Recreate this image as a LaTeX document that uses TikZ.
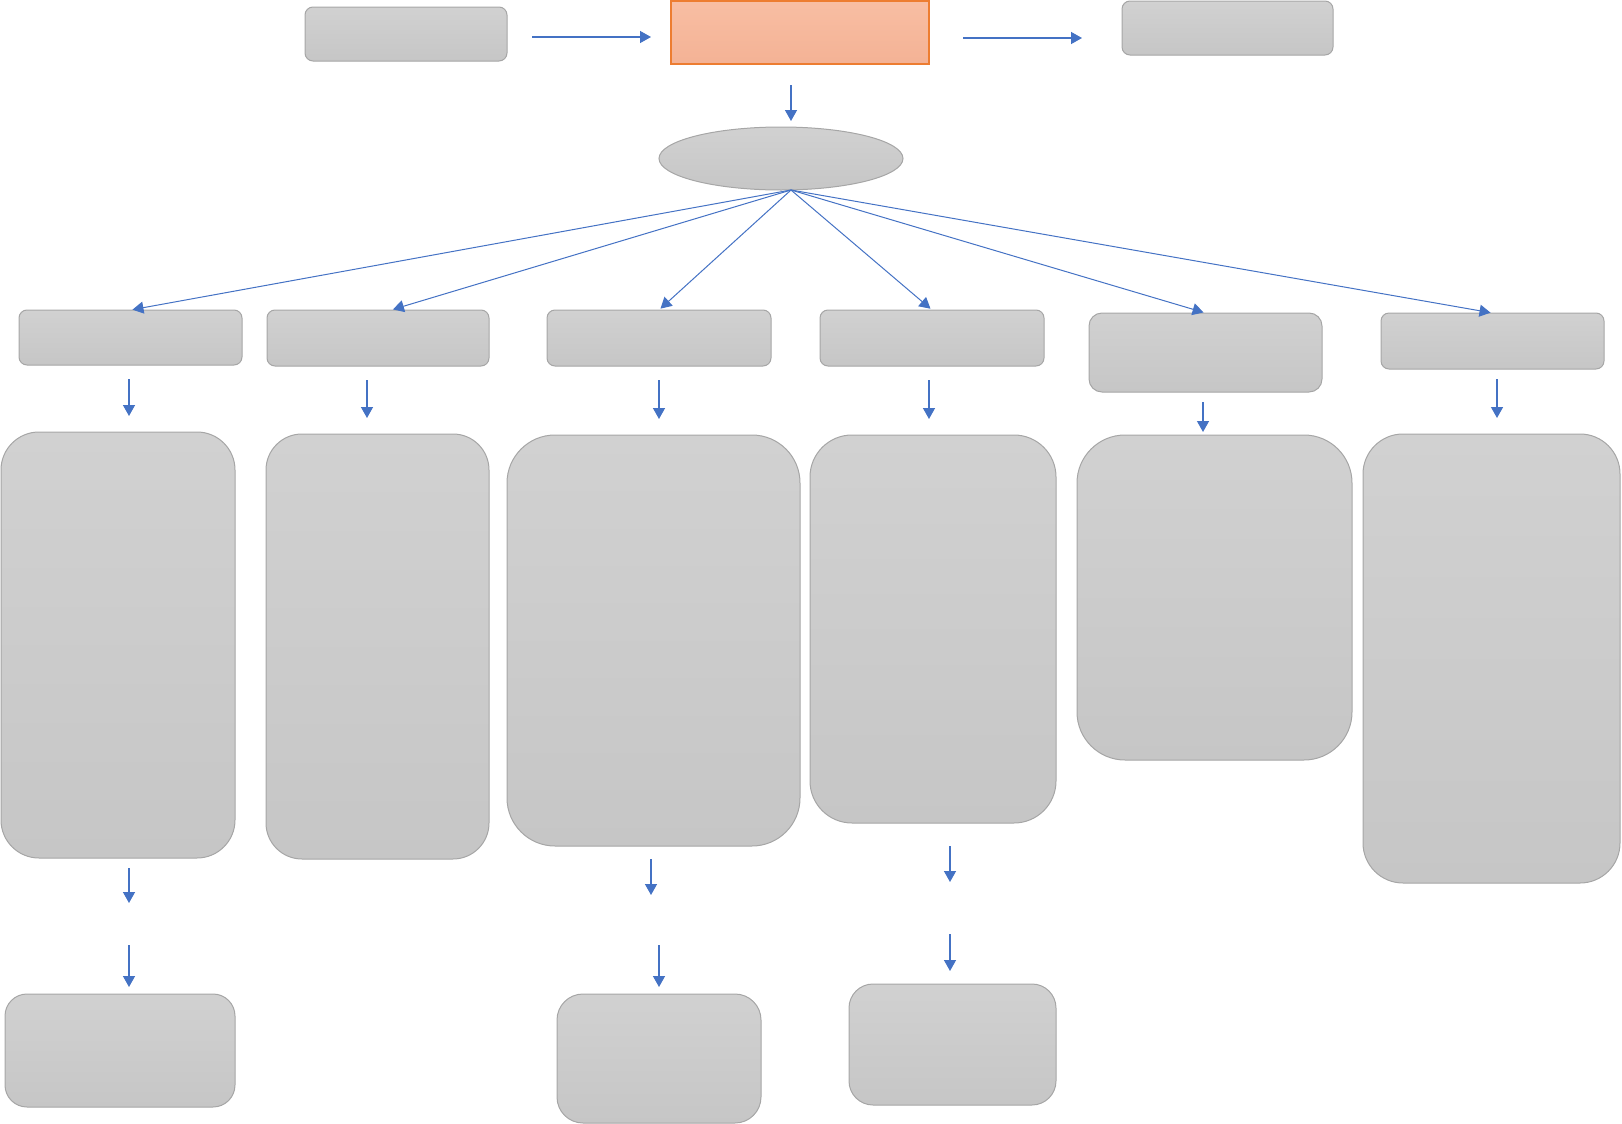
\documentclass[tikz,border=0pt]{standalone}
\usepackage{tikz}
\usetikzlibrary{calc,arrows.meta,shapes.geometric}
\definecolor{linec}{HTML}{4472C4}
\definecolor{boxtop}{HTML}{D1D1D1}
\definecolor{boxbot}{HTML}{C6C6C6}
\definecolor{boxline}{HTML}{A6A6A6}
\definecolor{hottop}{HTML}{F8BEA3}
\definecolor{hotbot}{HTML}{F4B295}
\definecolor{hotline}{HTML}{ED7D31}
\tikzset{
  ar/.style={-{Triangle[length=5.5pt,width=6pt]},line width=0.7pt,linec},
  fan/.style={-{Triangle[length=5.5pt,width=6pt]},line width=0.5pt,linec},
  box/.style={draw=boxline,line width=0.5pt,top color=boxtop,bottom color=boxbot,
    rounded corners=4pt,inner sep=0pt,outer sep=0pt},
  hot/.style={draw=hotline,line width=0.6pt,top color=hottop,bottom color=hotbot,
    inner sep=0pt,outer sep=0pt},
  sz/.style 2 args={minimum width=#1*0.5pt,minimum height=#2*0.5pt}
}
\begin{document}
\begin{tikzpicture}[x=0.5pt,y=-0.5pt]
\useasboundingbox (0,0) rectangle (1622,1124);
% top row
\node[box,sz={202}{54}] (src) at (406,34) {};
\node[hot,sz={258}{63}] (core) at (800,32.5) {};
\node[box,sz={211}{54}] (out) at (1227.5,28) {};
\node[box,ellipse,sz={244}{63}] (hub) at (781,158.5) {};
\draw[ar,shorten <=12.5pt,shorten >=10pt] ([yshift=-1.5pt]src.east) -- ([yshift=-1.5pt]src.east -| core.west);
\draw[ar,shorten <=17pt,shorten >=20pt] ([yshift=-2.75pt]core.east) -- ([yshift=-2.75pt]core.east -| out.west);
\draw[ar,shorten <=10.5pt,shorten >=3pt] ([xshift=-4.5pt]core.south) -- ([xshift=5pt]hub.north);
% second row
\node[box,sz={223}{55}] (c1) at (130.5,337.5) {};
\node[box,sz={222}{56}] (c2) at (378,338) {};
\node[box,sz={224}{56}] (c3) at (659,338) {};
\node[box,sz={224}{56}] (c4) at (932,338) {};
\node[box,sz={233}{79},rounded corners=6.5pt] (c5) at (1205.5,352.5) {};
\node[box,sz={223}{56}] (c6) at (1492.5,341) {};
\foreach \n in {c1,c3,c4,c5,c6}
  \draw[fan,shorten >=1pt] ([xshift=5pt]hub.south) -- (\n.north);
\draw[fan,shorten >=1pt] ([xshift=5pt]hub.south) -- ([xshift=6.5pt]c2.north);
% tall boxes
\node[box,sz={234}{426},rounded corners=19pt] (d1) at (118,645) {};
\node[box,sz={223}{425},rounded corners=18pt] (d2) at (377.5,646.5) {};
\node[box,sz={293}{411},rounded corners=24pt] (d3) at (653.5,640.5) {};
\node[box,sz={246}{388},rounded corners=21pt] (d4) at (933,629) {};
\node[box,sz={275}{325},rounded corners=24pt] (d5) at (1214.5,597.5) {};
\node[box,sz={257}{449},rounded corners=20pt] (d6) at (1491.5,658.5) {};
\draw[ar,shorten <=7pt,shorten >=8pt] ([xshift=-0.75pt]c1.south) -- ([xshift=-0.75pt]c1.south |- d1.north);
\draw[ar,shorten <=7pt,shorten >=8pt] ([xshift=-5.5pt]c2.south) -- ([xshift=-5.5pt]c2.south |- d2.north);
\draw[ar,shorten <=7pt,shorten >=8pt] (c3.south) -- (c3.south |- d3.north);
\draw[ar,shorten <=7pt,shorten >=8pt] ([xshift=-1.5pt]c4.south) -- ([xshift=-1.5pt]c4.south |- d4.north);
\draw[ar,shorten <=5pt,shorten >=1.5pt] ([xshift=-1.25pt]c5.south) -- ([xshift=-1.25pt]c5.south |- d5.north);
\draw[ar,shorten <=5pt,shorten >=8pt] ([xshift=2.25pt]c6.south) -- ([xshift=2.25pt]c6.south |- d6.north);
% bottom boxes
\node[box,sz={230}{113},rounded corners=11pt] (e1) at (120,1050.5) {};
\node[box,sz={204}{129},rounded corners=13pt] (e3) at (659,1058.5) {};
\node[box,sz={207}{121},rounded corners=12pt] (e4) at (952.5,1044.5) {};
\coordinate (g1a) at (129,903);
\coordinate (g1b) at (129,945);
\coordinate (g3a) at (651,895);
\coordinate (g3b) at (659,945);
\coordinate (g4a) at (950,882);
\coordinate (g4b) at (950,934);
\draw[ar,shorten <=5pt] (g1a |- d1.south) -- (g1a);
\draw[ar,shorten >=3.5pt] (g1b) -- (g1b |- e1.north);
\draw[ar,shorten <=6.5pt] (g3a |- d3.south) -- (g3a);
\draw[ar,shorten >=3.5pt] (g3b) -- (g3b |- e3.north);
\draw[ar,shorten <=11.5pt] (g4a |- d4.south) -- (g4a);
\draw[ar,shorten >=6.5pt] (g4b) -- (g4b |- e4.north);
\end{tikzpicture}
\end{document}
